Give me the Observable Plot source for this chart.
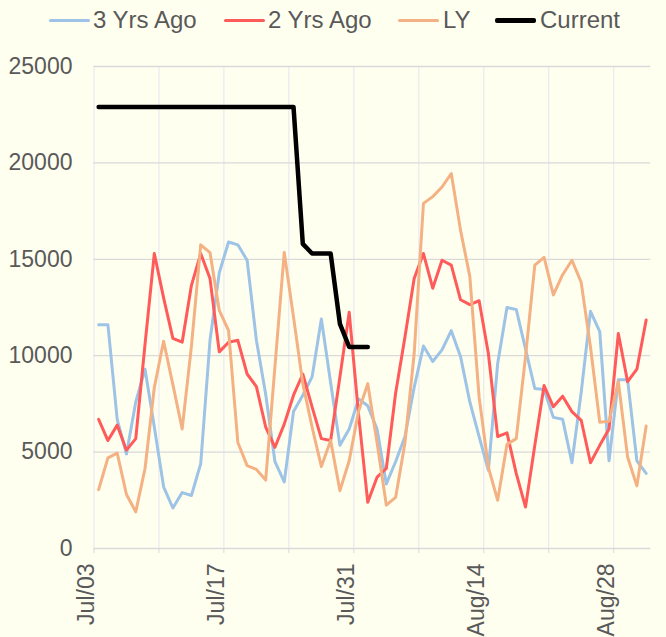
<!DOCTYPE html>
<html><head><meta charset="utf-8">
<script src="https://cdn.jsdelivr.net/npm/d3@7"></script>
<script src="https://cdn.jsdelivr.net/npm/@observablehq/plot@0.6"></script>
<style>
html,body{margin:0;padding:0;background:#fffff0;}
#wrap{position:relative;width:666px;height:637px;background:#fffff0;overflow:hidden;font-family:"Liberation Sans",Arial,sans-serif;}
#legend{position:relative;height:42px;}
.sw{position:absolute;top:19px;border-radius:2px;}
.lt{position:absolute;top:6px;font-size:24px;line-height:28px;color:#595959;white-space:nowrap;}
svg{display:block;}
</style></head><body>
<div id="wrap"><div id="legend"></div><div id="chart"></div></div>
<script>
// Categories: daily, Jul/03 .. Aug/31
const categories = d3.timeDay.range(new Date(2023, 6, 3), new Date(2023, 8, 1)).map(d3.timeFormat("%b/%d"));
const tickIndex = [0, 14, 28, 42, 56];
const gridIndex = [0, 7, 14, 21, 28, 35, 42, 49, 56];
const yTicks = [0, 5000, 10000, 15000, 20000, 25000];

const seriesNames = ["3 Yrs Ago", "2 Yrs Ago", "LY", "Current"];
const seriesColors = ["#9dc3e6", "#ff5b5b", "#f4b183", "#000000"];

const threeYrsAgo = [11600,11600,6700,4900,7600,9300,6300,3200,2100,2900,
  2750,4400,10800,14300,15900,15750,14950,10800,8000,4500,
  3450,7100,7950,8900,11900,8600,5350,6200,7750,7400,
  6200,3350,4500,5800,8350,10500,9700,10300,11300,9950,
  7600,5800,4050,9600,12500,12400,10350,8300,8250,6800,
  6700,4450,8100,12300,11250,4550,8750,8750,4550,3900];
const twoYrsAgo = [6700,5600,6400,5100,5700,10600,15300,13000,10900,10700,
  13650,15300,14000,10200,10700,10800,9050,8400,6300,5250,
  6450,7950,9050,7350,5700,5600,8900,12250,7000,2400,
  3700,4150,8050,10950,14000,15300,13500,14950,14700,12900,
  12650,12850,10100,5800,6000,3900,2150,5350,8450,7350,
  7900,7100,6650,4450,5350,6200,11150,8650,9300,11850];
const lastYear = [3050,4700,4950,2800,1900,4150,8350,10750,8500,6200,
  10500,15750,15350,12350,11300,5500,4300,4100,3550,9450,
  15350,12000,8550,6300,4250,5600,3000,4550,7100,8550,
  5500,2250,2650,5450,10100,17900,18250,18750,19450,16500,
  14100,7850,4200,2500,5400,5700,9950,14700,15100,13150,
  14200,14950,13800,10450,6550,6600,8650,4750,3250,6350];
const current = [22900,22900,22900,22900,22900,22900,22900,22900,22900,22900,
  22900,22900,22900,22900,22900,22900,22900,22900,22900,22900,
  22900,22900,15800,15300,15300,15300,11650,10450,10450,10450];

const seriesValues = [threeYrsAgo, twoYrsAgo, lastYear, current];

// Legend
const legendLineX = [49, 224, 398, 495];
const legendTextX = [93, 268, 443, 540];
const legend = document.getElementById("legend");
seriesNames.forEach((name, k) => {
  const sw = document.createElement("div");
  sw.className = "sw";
  sw.style.left = legendLineX[k] + "px";
  sw.style.width = "41px";
  sw.style.height = (k === 3 ? 5 : 3) + "px";
  sw.style.top = (k === 3 ? 18 : 19) + "px";
  sw.style.background = seriesColors[k];
  legend.appendChild(sw);
  const t = document.createElement("div");
  t.className = "lt";
  t.style.left = legendTextX[k] + "px";
  t.textContent = name;
  legend.appendChild(t);
});

const lineMarks = seriesValues.map((vals, k) =>
  Plot.line(vals.map((v, i) => ({i, v})), {
    x: d => d.i + 0.5,
    y: "v",
    stroke: seriesColors[k],
    strokeWidth: k === 3 ? 4.5 : 3,
    strokeLinejoin: "round",
    strokeLinecap: "round"
  })
);

const chart = Plot.plot({
  width: 666,
  height: 595,
  marginTop: 24,
  marginBottom: 89,
  marginLeft: 93.5,
  marginRight: 15.7,
  x: {domain: [0, 60], label: null},
  y: {domain: [0, 25000], label: null},
  style: {background: "#fffff0", fontFamily: "'Liberation Sans', Arial, sans-serif", color: "#595959", overflow: "visible"},
  marks: [
    Plot.ruleX(gridIndex, {y1: 0, y2: 25000, stroke: "#ebebf0", strokeWidth: 1.3, strokeOpacity: 1}),
    Plot.ruleY(yTicks, {x1: 0, x2: 60, stroke: "#d9d9d9", strokeWidth: 1.3, strokeOpacity: 1}),
    Plot.axisX(gridIndex, {tickSize: 5, tickFormat: () => "", stroke: "#d9d9d9", strokeOpacity: 1, tickPadding: 0, label: null}),
    Plot.axisY(yTicks, {tickSize: 0, tickPadding: 21.5, fontSize: 23, tickFormat: d3.format("d"), fill: "#595959", label: null}),
    Plot.text(tickIndex, {x: d => d, frameAnchor: "bottom", text: d => categories[d], rotate: -90, textAnchor: "end", dy: 15, fontSize: 23, fill: "#595959"}),
    ...lineMarks
  ]
});
document.getElementById("chart").appendChild(chart);
</script>
</body></html>
